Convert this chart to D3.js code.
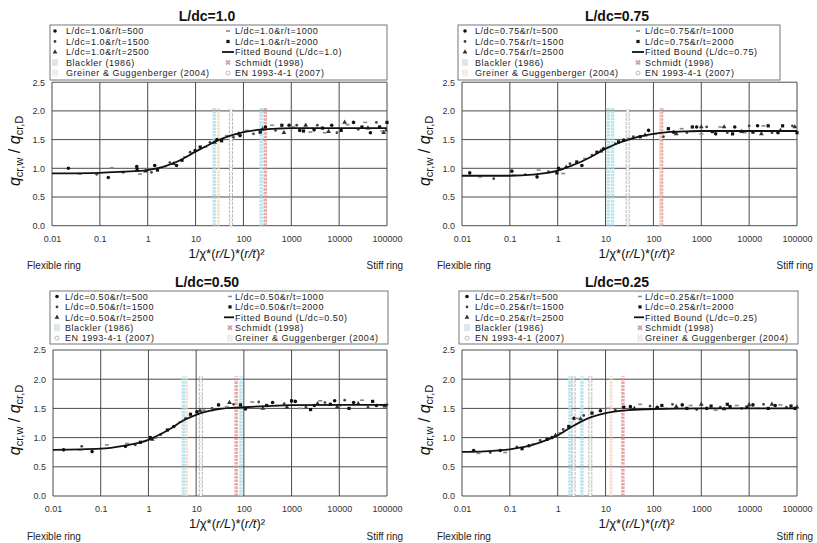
<!DOCTYPE html>
<html><head><meta charset="utf-8">
<script src="https://cdn.jsdelivr.net/npm/d3@7"></script>
<style>body{margin:0;background:#fff}svg{display:block;font-family:"Liberation Sans",Arial,sans-serif}</style>
</head><body><svg id="c" width="817" height="543"></svg>
<script>
// ---------- tick labels / categories ----------
const panelLdc = ["1.0","0.75","0.50","0.25"];
const rtValues = [500,1000,1500,2000,2500];
const yTicks = [0,0.5,1.0,1.5,2.0,2.5];
const xTicks = [0.01,0.1,1,10,100,1000,10000,100000];
const xTickLabels = ["0.01","0.1","1","10","100","1000","10000","100000"];
const refNames = ["Blackler (1986)","Schmidt (1998)","Greiner & Guggenberger (2004)","EN 1993-4-1 (2007)"];
const refTop = 2.05;

// ---------- Panel 1 : L/dc = 1.0 ----------
const p1_rt500  = [[0.022,1.0],[0.15,0.84],[0.59,1.03],[1.4,1.05],[4,1.05],[9.8,1.31],[28,1.5],[85,1.57],[288,1.72],[900,1.75],[1500,1.66],[3000,1.67],[7000,1.75],[20000,1.8],[45000,1.62]];
const p1_rt1000 = [[0.038,0.9],[0.178,1.01],[0.69,0.9],[2.3,1.0],[6,1.2],[16,1.37],[45,1.57],[117,1.66],[398,1.75],[1100,1.72],[2500,1.63],[5000,1.62],[15000,1.76],[35000,1.8],[80000,1.65]];
const p1_rt1500 = [[0.086,0.895],[0.31,0.93],[1.2,0.93],[2.9,1.1],[7.7,1.28],[20,1.45],[62,1.54],[162,1.6],[468,1.66],[1300,1.75],[3500,1.75],[9000,1.62],[25000,1.68],[60000,1.8],[95000,1.66]];
const p1_rt2000 = [[0.6,0.98],[1.6,0.97],[5.2,1.14],[12.5,1.37],[35,1.48],[224,1.63],[635,1.75],[1800,1.65],[4500,1.7],[11000,1.66],[30000,1.72],[70000,1.72],[100000,1.8]];
const p1_rt2500 = [[0.9,0.95],[3.5,1.08],[25,1.45],[80,1.6],[250,1.68],[700,1.62],[2000,1.75],[6000,1.64],[13000,1.8],[40000,1.7],[85000,1.62]];
const p1_fit = [[0.01,0.91],[0.1,0.92],[0.3,0.94],[1,0.97],[2,1.02],[3,1.07],[5,1.15],[10,1.29],[20,1.42],[30,1.49],[50,1.56],[100,1.63],[200,1.67],[500,1.69],[1000,1.7],[100000,1.7]];
const p1_blackler = [24.5,235];
const p1_schmidt = [286];
const p1_greiner = [30];
const p1_en = [55];

// ---------- Panel 2 : L/dc = 0.75 ----------
const p2_rt500  = [[0.0145,0.92],[0.11,0.95],[0.37,0.85],[1.04,1.0],[3.2,1.05],[9.1,1.34],[24,1.49],[79,1.66],[265,1.63],[800,1.72],[2000,1.6],[5000,1.72],[15000,1.74],[40000,1.62]];
const p2_rt1000 = [[0.024,0.85],[0.12,0.88],[0.40,0.97],[1.3,0.91],[3.7,1.17],[11.6,1.37],[30,1.52],[108,1.6],[390,1.69],[1000,1.6],[2500,1.72],[8000,1.62],[20000,1.74],[60000,1.65]];
const p2_rt1500 = [[0.046,0.82],[0.21,0.89],[0.64,0.94],[1.8,1.08],[5.2,1.23],[16,1.43],[38,1.55],[162,1.55],[500,1.62],[1300,1.72],[3500,1.62],[10000,1.74],[30000,1.62],[80000,1.74]];
const p2_rt2000 = [[0.96,0.92],[2.5,1.11],[6.6,1.28],[18.7,1.46],[53,1.55],[205,1.69],[650,1.72],[1700,1.64],[4500,1.6],[12000,1.63],[25000,1.74],[50000,1.74],[100000,1.62]];
const p2_rt2500 = [[1.5,1.02],[8,1.3],[67,1.58],[300,1.6],[1000,1.72],[3000,1.72],[7000,1.64],[18000,1.6],[45000,1.66],[90000,1.72]];
const p2_fit = [[0.01,0.87],[0.1,0.87],[0.3,0.89],[1,0.96],[2,1.05],[3,1.11],[5,1.2],[10,1.34],[20,1.45],[30,1.5],[50,1.55],[100,1.6],[200,1.63],[500,1.645],[1000,1.65],[100000,1.65]];
const p2_blackler = [11.4,14];
const p2_schmidt = [148];
const p2_greiner = [140];
const p2_en = [29];

// ---------- Panel 3 : L/dc = 0.50 ----------
const p3_rt500  = [[0.0167,0.79],[0.066,0.76],[0.33,0.85],[1.1,1.0],[3.4,1.19],[10.4,1.44],[29.5,1.56],[108,1.49],[400,1.6],[1200,1.62],[3000,1.55],[8000,1.63],[20000,1.6],[60000,1.55]];
const p3_rt1000 = [[0.037,0.79],[0.135,0.875],[0.36,0.9],[1.4,0.99],[4.7,1.27],[14.4,1.47],[44,1.53],[150,1.61],[500,1.55],[1500,1.5],[4000,1.63],[10000,1.54],[30000,1.64],[80000,1.55]];
const p3_rt1500 = [[0.04,0.85],[0.53,0.875],[1.8,1.05],[6.0,1.33],[21.5,1.5],[61,1.57],[205,1.61],[700,1.58],[2000,1.52],[5000,1.6],[13000,1.64],[40000,1.52],[100000,1.56]];
const p3_rt2000 = [[0.68,0.92],[2.5,1.13],[7.6,1.4],[85,1.56],[300,1.55],[1000,1.63],[2500,1.48],[6500,1.57],[16000,1.5],[50000,1.62]];
const p3_rt2500 = [[1.2,0.97],[12,1.46],[50,1.6],[250,1.5],[800,1.52],[3500,1.58],[9000,1.52],[25000,1.58],[90000,1.54]];
const p3_fit = [[0.01,0.79],[0.1,0.81],[0.3,0.86],[1,0.96],[2,1.08],[3,1.16],[5,1.28],[10,1.39],[20,1.46],[30,1.49],[100,1.52],[300,1.54],[1000,1.555],[100000,1.56]];
const p3_blackler = [5.4,87];
const p3_schmidt = [69];
const p3_greiner = [6.3];
const p3_en = [12.5];

// ---------- Panel 4 : L/dc = 0.25 ----------
const p4_rt500  = [[0.0175,0.78],[0.063,0.78],[0.25,0.86],[0.76,1.0],[2.2,1.33],[7.8,1.46],[33,1.53],[120,1.52],[400,1.56],[1300,1.5],[4000,1.53],[12000,1.56],[35000,1.55],[90000,1.5]];
const p4_rt1000 = [[0.022,0.73],[0.08,0.745],[0.31,0.89],[1.1,1.08],[2.5,1.33],[11.4,1.5],[53,1.57],[180,1.5],[600,1.55],[2000,1.47],[5500,1.55],[15000,1.5],[45000,1.56]];
const p4_rt1500 = [[0.039,0.745],[0.14,0.84],[0.43,0.95],[1.3,1.14],[3.5,1.38],[16,1.47],[85,1.54],[250,1.57],[800,1.48],[2500,1.52],[7000,1.5],[20000,1.57],[60000,1.52]];
const p4_rt2000 = [[0.18,0.81],[0.6,0.97],[1.7,1.19],[5.2,1.42],[24,1.52],[150,1.55],[500,1.5],[1600,1.54],[3500,1.57],[9000,1.52],[25000,1.5],[75000,1.54]];
const p4_rt2500 = [[0.9,1.04],[3,1.32],[40,1.5],[300,1.53],[1000,1.57],[3000,1.49],[10000,1.56],[30000,1.57],[100000,1.52]];
const p4_fit = [[0.01,0.755],[0.03,0.765],[0.1,0.8],[0.3,0.875],[0.6,0.96],[1,1.04],[2,1.19],[3,1.27],[5,1.35],[10,1.42],[30,1.47],[100,1.49],[1000,1.5],[100000,1.5]];
const p4_blackler = [1.8,3.2];
const p4_schmidt = [23];
const p4_greiner = [13];
const p4_en = [2.15,4.8];

const panelData = [
  {series:[p1_rt500,p1_rt1000,p1_rt1500,p1_rt2000,p1_rt2500], fit:p1_fit, refs:[p1_blackler,p1_schmidt,p1_greiner,p1_en]},
  {series:[p2_rt500,p2_rt1000,p2_rt1500,p2_rt2000,p2_rt2500], fit:p2_fit, refs:[p2_blackler,p2_schmidt,p2_greiner,p2_en]},
  {series:[p3_rt500,p3_rt1000,p3_rt1500,p3_rt2000,p3_rt2500], fit:p3_fit, refs:[p3_blackler,p3_schmidt,p3_greiner,p3_en]},
  {series:[p4_rt500,p4_rt1000,p4_rt1500,p4_rt2000,p4_rt2500], fit:p4_fit, refs:[p4_blackler,p4_schmidt,p4_greiner,p4_en]}
];

// ---------- layout ----------
const layouts = [
  {ox:0,   L:52,  R:387, T:82.2, B:225.7, tx:207, ty:21,  lx:50,  lr:387, ly:25,  lb:80,  rows:[31,41.5,52,62.5,73], c1m:55,  c1t:66,  c2m:228, c2t:235, tickY:240, axY:258, ringY:269, ylx:15},
  {ox:410, L:462, R:797, T:82.2, B:225.7, tx:617, ty:21,  lx:458, lr:780, ly:25,  lb:80,  rows:[31,41.5,52,62.5,73], c1m:465, c1t:475, c2m:638, c2t:645, tickY:240, axY:258, ringY:269, ylx:425},
  {ox:0,   L:53,  R:387, T:350,  B:496,   tx:207, ty:287, lx:50,  lr:388, ly:291, lb:344, rows:[296.5,306.9,317.3,327.7,338.1], c1m:57, c1t:65, c2m:230, c2t:235, tickY:509.5, axY:527.5, ringY:540, ylx:15, bottomOrder:true},
  {ox:410, L:462, R:797, T:350,  B:496,   tx:617, ty:287, lx:459, lr:798, ly:291, lb:344, rows:[296.5,306.9,317.3,327.7,338.1], c1m:467, c1t:475, c2m:640, c2t:645, tickY:509.5, axY:527.5, ringY:540, ylx:425, bottomOrder:true}
];

const refStyle = [
  {color:"#a6dbe8", w:3.5, dash:"2.5,0.8", op:0.75},
  {color:"#e38a8a", w:3.5, dash:"2.5,1",   op:0.75},
  {color:"#f5d3bb", w:3,   dash:"2.5,0.8", op:0.7},
  {color:"#b0b0b0", w:4,   dash:"3,1.2",   op:0.9}
];

const svg = d3.select("#c");
svg.append("rect").attr("width",817).attr("height",543).attr("fill","#fff");

function seriesMarker(g, k, x, y){
  if(k===0) g.append("circle").attr("cx",x).attr("cy",y).attr("r",1.8).attr("fill","#111");
  else if(k===1) g.append("rect").attr("x",x-2).attr("y",y-0.8).attr("width",4).attr("height",1.6).attr("fill","#8a8a8a");
  else if(k===2) g.append("circle").attr("cx",x).attr("cy",y).attr("r",1.4).attr("fill","#444");
  else if(k===3) g.append("rect").attr("x",x-1.6).attr("y",y-1.6).attr("width",3.2).attr("height",3.2).attr("fill","#111");
  else g.append("path").attr("d",d3.symbol(d3.symbolTriangle,10)()).attr("transform",`translate(${x},${y})`).attr("fill","#333");
}
function refMarker(g, k, x, y){
  if(k===0) g.append("rect").attr("x",x-3).attr("y",y-3.5).attr("width",6).attr("height",7).attr("fill","#dde8ec");
  else if(k===1) g.append("path").attr("d",d3.symbol(d3.symbolCross,18)()).attr("transform",`translate(${x},${y}) rotate(45)`).attr("fill","#c9a3a8");
  else if(k===2) g.append("rect").attr("x",x-3).attr("y",y-3.5).attr("width",6).attr("height",7).attr("fill","#f6ece4");
  else g.append("circle").attr("cx",x).attr("cy",y).attr("r",2).attr("fill","none").attr("stroke","#bbb").attr("stroke-width",1);
}

layouts.forEach((lay, pi) => {
  const d = panelData[pi];
  const ldc = panelLdc[pi];
  const g = svg.append("g");
  const x = d3.scaleLog().domain([0.01,100000]).range([lay.L, lay.R]);
  const y = d3.scaleLinear().domain([0,2.5]).range([lay.B, lay.T]);

  // gridlines
  g.append("g").selectAll("line").data(yTicks).join("line")
    .attr("x1",lay.L).attr("x2",lay.R).attr("y1",v=>y(v)).attr("y2",v=>y(v))
    .attr("stroke","#4a4a4a").attr("stroke-width",1);
  g.append("g").selectAll("line").data(xTicks).join("line")
    .attr("x1",v=>x(v)).attr("x2",v=>x(v)).attr("y1",lay.T).attr("y2",lay.B)
    .attr("stroke","#4a4a4a").attr("stroke-width",1);

  const yAxis = g.append("g").attr("transform",`translate(${lay.L},0)`)
    .call(d3.axisLeft(y).tickValues(yTicks).tickFormat(d3.format(".1f")).tickSize(0).tickPadding(7));
  yAxis.select(".domain").remove();
  yAxis.selectAll("text").attr("font-size",9).attr("fill","#333").attr("font-family","Liberation Sans, Arial, sans-serif");
  const xAxis = g.append("g").attr("transform",`translate(0,${lay.tickY-4})`)
    .call(d3.axisBottom(x).tickValues(xTicks).tickFormat((v,i)=>xTickLabels[i]).tickSize(0).tickPadding(0));
  xAxis.select(".domain").remove();
  xAxis.selectAll("text").attr("font-size",9).attr("fill","#333").attr("font-family","Liberation Sans, Arial, sans-serif");

  // reference bounds (vertical columns of markers)
  const refTopY = y(refTop);
  d.refs.forEach((arr, k) => {
    const st = refStyle[k];
    arr.forEach(v => {
      g.append("line").attr("x1",x(v)).attr("x2",x(v)).attr("y1",lay.B).attr("y2",refTopY)
        .attr("stroke",st.color).attr("stroke-width",st.w).attr("opacity",st.op).attr("stroke-dasharray",st.dash);
      if(k===3){
        g.append("line").attr("x1",x(v)).attr("x2",x(v)).attr("y1",lay.B).attr("y2",refTopY)
          .attr("stroke","#fff").attr("stroke-width",2).attr("stroke-dasharray","3,1.2");
      }
    });
  });

  // scatter
  d.series.forEach((s, k) => {
    const sg = g.append("g");
    s.forEach(p => seriesMarker(sg, k, x(p[0]), y(p[1])));
  });

  // fitted bound
  g.append("path").datum(d.fit)
    .attr("d", d3.line().x(p=>x(p[0])).y(p=>y(p[1])).curve(d3.curveMonotoneX))
    .attr("fill","none").attr("stroke","#111").attr("stroke-width",1.8);

  // title
  g.append("text").attr("x",lay.tx).attr("y",lay.ty).attr("text-anchor","middle")
    .attr("font-size",14).attr("font-weight","bold").attr("fill","#111").text("L/dc=" + ldc);

  // legend
  g.append("rect").attr("x",lay.lx).attr("y",lay.ly).attr("width",lay.lr-lay.lx).attr("height",lay.lb-lay.ly)
    .attr("fill","#fff").attr("stroke","#777").attr("stroke-width",1);
  const items = rtValues.map((rt,k)=>({type:"s",k,label:`L/dc=${ldc}&r/t=${rt}`}));
  const fitItem = {type:"fit",label:`Fitted Bound (L/dc=${ldc})`};
  const refItems = refNames.map((n,k)=>({type:"r",k,label:n}));
  const order = [items[0],items[1],items[2],items[3],items[4],fitItem,refItems[0],refItems[1]]
    .concat(lay.bottomOrder ? [refItems[3],refItems[2]] : [refItems[2],refItems[3]]);
  order.forEach((it, i) => {
    const row = Math.floor(i/2), col = i%2;
    const cy = lay.rows[row];
    const mx = col===0 ? lay.c1m : lay.c2m;
    const tx = col===0 ? lay.c1t : lay.c2t;
    if(it.type==="s") seriesMarker(g, it.k, mx, cy);
    else if(it.type==="r") refMarker(g, it.k, mx, cy);
    else g.append("line").attr("x1",mx-6).attr("x2",tx-1).attr("y1",cy).attr("y2",cy).attr("stroke","#111").attr("stroke-width",1.8);
    g.append("text").attr("x",tx).attr("y",cy+3.2).attr("font-size",9).attr("letter-spacing",0.55).attr("fill","#222").text(it.label);
  });

  // x axis title
  const xt = g.append("text").attr("x",(lay.L+lay.R)/2+7).attr("y",lay.axY).attr("text-anchor","middle")
    .attr("font-size",13).attr("fill","#111");
  xt.append("tspan").text("1/χ*(");
  xt.append("tspan").attr("font-style","italic").text("r/L");
  xt.append("tspan").text(")*(");
  xt.append("tspan").attr("font-style","italic").text("r/t");
  xt.append("tspan").text(")²");

  g.append("text").attr("x",lay.ox+27).attr("y",lay.ringY).attr("font-size",10).attr("fill","#222").text("Flexible ring");
  g.append("text").attr("x",lay.R+16).attr("y",lay.ringY).attr("text-anchor","end").attr("font-size",10).attr("fill","#222").text("Stiff ring");

  // y axis title
  const yc = (lay.T+lay.B)/2 - 3;
  const yt = g.append("text").attr("transform",`translate(${lay.ylx+5},${yc}) rotate(-90)`)
    .attr("text-anchor","middle").attr("font-size",16).attr("fill","#111");
  yt.append("tspan").attr("font-style","italic").text("q");
  yt.append("tspan").attr("font-size",11).attr("dy",3).text("cr,w");
  yt.append("tspan").attr("dy",-3).text(" / ");
  yt.append("tspan").attr("font-style","italic").text("q");
  yt.append("tspan").attr("font-size",11).attr("dy",3).text("cr,D");
});
</script></body></html>
